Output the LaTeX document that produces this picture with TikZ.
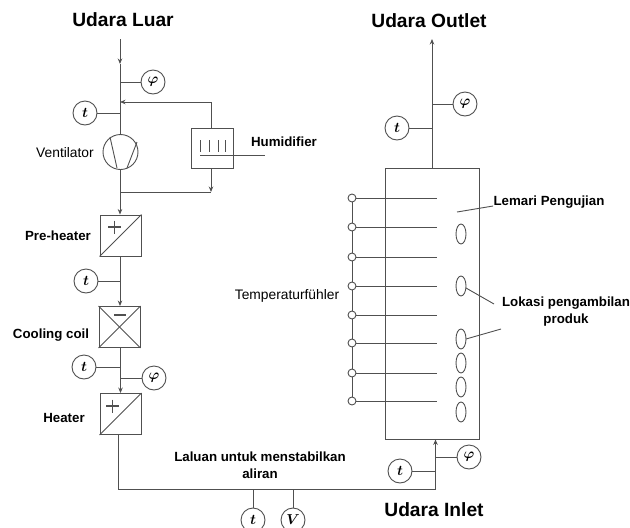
\documentclass[tikz,border=0pt]{standalone}
\usepackage{fontspec}
\setmainfont{Liberation Sans}
\usetikzlibrary{arrows.meta}
\definecolor{ln}{HTML}{505050}
\tikzset{
  x=1pt,y=-1pt,
  every path/.style={line width=0.9pt},
  wire/.style={draw=ln},
  flow/.style={draw=ln,-{Stealth[length=5.5pt,width=4.5pt]}},
  gauge/.style={circle,draw=ln,minimum size=24pt,inner sep=0pt,font=\fontsize{15}{15}\selectfont\boldmath},
  unit/.style={rectangle,draw=ln,minimum width=41pt,minimum height=41pt,inner sep=0pt},
  port/.style={circle,draw=ln,fill=white,minimum size=8pt,inner sep=0pt},
  big/.style={font=\fontsize{19.2}{22}\selectfont\bfseries},
  lab/.style={font=\fontsize{13.3}{16.8}\selectfont\bfseries,align=center},
  reg/.style={font=\fontsize{13.8}{17}\selectfont},
  sign/.style={draw=ln,line width=1.5pt},
}
\begin{document}
\begin{tikzpicture}
\useasboundingbox (0,0) rectangle (630,528);
% titles
\node[big] (tLuar) at (123,20) {Udara Luar};
\node[big] (tOut) at (429,21) {Udara Outlet};
\node[big] (tIn) at (434,510) {Udara Inlet};
% junctions
\coordinate (in0) at (120,39);
\coordinate (in1) at (120,64);
\coordinate (jphi1) at (120,82);
\coordinate (jret) at (120,102);
\coordinate (jt1) at (120,113);
\coordinate (jfan) at (120,192);
\coordinate (jt2) at (120,281);
\coordinate (jt3) at (120.5,367);
\coordinate (jphi2) at (120.5,378);
\coordinate (corner1) at (118,489);
\coordinate (corner2) at (435.5,489);
\coordinate (jt4) at (253,489);
\coordinate (jv) at (293,489);
\coordinate (jphi3) at (435.5,457);
\coordinate (jt5) at (435.5,471);
\coordinate (jphi4) at (432,104);
\coordinate (jt6) at (432,128);
\coordinate (outEnd) at (432,39);
\coordinate (retC) at (211,102);
\coordinate (humC) at (211,192);
% components
\node[gauge] (phi1) at (153,82) {$\varphi$};
\node[gauge] (t1) at (85,113) {$t$};
\node[circle,draw=ln,minimum size=35pt,inner sep=0pt] (fan) at (120.5,152) {};
\draw[wire] (110,137) -- (117,168);
\draw[wire] (137,142) -- (127,168);
\node[rectangle,draw=ln,minimum width=42pt,minimum height=40pt,inner sep=0pt] (hum) at (212,148) {};
\foreach \hx in {200,209,218,225} \draw[wire] (\hx,140) -- (\hx,152);
\coordinate (humL) at (200,155);
\coordinate (humR) at (265,155);
\draw[wire] (humL) -- (humR);
\node[unit] (pre) at (120.5,235.5) {};
\draw[wire] (pre.south west) -- (pre.north east);
\draw[sign] (108,227) -- (121,227) (114.5,220.5) -- (114.5,233.5);
\node[gauge] (t2) at (86,281) {$t$};
\node[unit] (cool) at (119.5,327) {};
\draw[wire] (cool.south west) -- (cool.north east);
\draw[wire] (cool.north west) -- (cool.south east);
\draw[sign] (114,315) -- (126,315);
\node[gauge] (t3) at (84,367) {$t$};
\node[gauge] (phi2) at (154,378) {$\varphi$};
\node[unit] (heat) at (120.5,414) {};
\draw[wire] (heat.south west) -- (heat.north east);
\draw[sign] (106,406) -- (119,406) (112.5,399.5) -- (112.5,412.5);
\node[gauge] (t4) at (253,520) {$t$};
\node[gauge] (v1) at (293,520) {$V$};
\node[gauge] (phi3) at (469,457) {$\varphi$};
\node[gauge] (t5) at (400,471) {$t$};
\node[gauge] (phi4) at (465,104) {$\varphi$};
\node[gauge] (t6) at (397,128) {$t$};
\node[rectangle,draw=ln,minimum width=94pt,minimum height=271pt,inner sep=0pt] (cab) at (432,303.5) {};
% connectors
\draw[flow] (in0) -- (in1);
\draw[wire] (in1) -- (fan.north -| in1);
\draw[wire] (phi1) -- (jphi1);
\draw[wire] (t1) -- (jt1);
\draw[wire] (hum.north -| retC) -- (retC);
\draw[flow] (retC) -- (jret);
\draw[wire] (fan.south -| jfan) -- (jfan);
\draw[flow] (jfan) -- (pre.north -| jfan);
\draw[wire] (jfan) -- (humC);
\draw[flow] (hum.south -| humC) -- (humC);
\draw[flow] (pre.south -| jt2) -- (cool.north -| jt2);
\draw[wire] (t2) -- (jt2);
\draw[flow] (cool.south -| jt3) -- (heat.north -| jt3);
\draw[wire] (t3) -- (jt3);
\draw[wire] (phi2) -- (jphi2);
\draw[wire] (heat.south -| corner1) -- (corner1) -- (corner2);
\draw[flow] (corner2) -- (cab.south -| corner2);
\draw[wire] (jt4) -- (t4);
\draw[wire] (jv) -- (v1);
\draw[wire] (phi3) -- (jphi3);
\draw[wire] (t5) -- (jt5);
\draw[flow] (cab.north -| outEnd) -- (outEnd);
\draw[wire] (phi4) -- (jphi4);
\draw[wire] (t6) -- (jt6);
% sensors
\foreach \nm/\sy in {a/198,b/227,c/257,d/286,e/315,f/343,g/373,h/401}{
  \coordinate (end\nm) at (437,\sy);
  \node[port] (s\nm) at (352,\sy) {};
  \draw[wire] (s\nm) -- (end\nm);
}
\draw[wire] (sa) -- (sb);
\draw[wire] (sb) -- (sc);
\draw[wire] (sc) -- (sd);
\draw[wire] (sd) -- (se);
\draw[wire] (se) -- (sf);
\draw[wire] (sf) -- (sg);
\draw[wire] (sg) -- (sh);
% product locations
\draw[draw=ln] (461,234) ellipse (5 and 10);
\draw[draw=ln] (461,286) ellipse (5 and 10);
\draw[draw=ln] (461,339) ellipse (5 and 10);
\draw[draw=ln] (461,363) ellipse (5 and 10);
\draw[draw=ln] (461,387) ellipse (5 and 10);
\draw[draw=ln] (461,412) ellipse (5 and 10);
% labels
\node[reg] (lVent) at (65,153) {Ventilator};
\node[lab] (lHum) at (284,142) {Humidifier};
\node[lab] (lPre) at (58,236) {Pre-heater};
\node[reg] (lTemp) at (287,296) {Temperaturfühler};
\node[lab] (lCool) at (51,335) {Cooling coil};
\node[lab] (lHeat) at (64,418) {Heater};
\node[lab] (lLal) at (260,465) {Laluan untuk menstabilkan\\aliran};
\node[lab] (lLem) at (549,202) {Lemari Pengujian};
\node[lab] (lLok) at (566,311.5) {Lokasi pengambilan\\produk};
% leaders
\coordinate (ldA) at (457,212);
\coordinate (ldB) at (493,206);
\coordinate (ldC) at (466,288);
\coordinate (ldD) at (494,304);
\coordinate (ldE) at (466,339);
\coordinate (ldF) at (501,329);
\draw[wire] (ldA) -- (ldB);
\draw[wire] (ldC) -- (ldD);
\draw[wire] (ldE) -- (ldF);
\end{tikzpicture}
\end{document}
